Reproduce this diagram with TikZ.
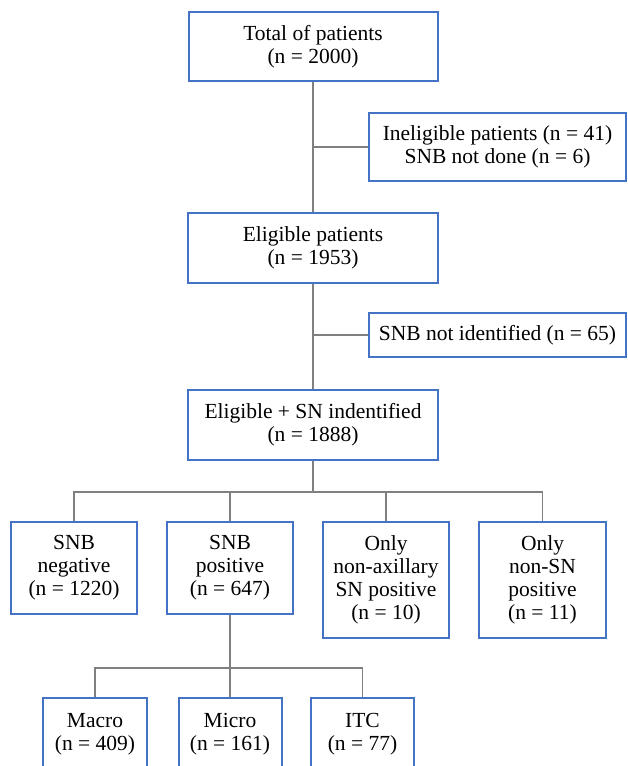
\documentclass[tikz,border=0pt]{standalone}
\usepackage{fontspec}
\setmainfont{Liberation Serif}
\usepackage{tikz}
\definecolor{boxblue}{RGB}{68,114,196}
\definecolor{linegray}{RGB}{128,128,128}
\tikzset{
  flowbox/.style={draw=boxblue, line width=2pt, fill=white, align=center, inner sep=0pt,
    font=\fontsize{21.5}{23}\selectfont},
  link/.style={draw=linegray, line width=1.4pt}
}

\begin{document}
\begin{tikzpicture}[x=1pt,y=-1pt]
\clip (0,0) rectangle (628,766);
\fill[white] (0,0) rectangle (628,766);
\node[flowbox, minimum width=249pt, minimum height=69pt] (total) at (313,46.5) {Total of patients\\(n = 2000)};
\node[flowbox, minimum width=257pt, minimum height=68pt] (inelig) at (497.5,147) {Ineligible patients (n = 41)\\SNB not done (n = 6)};
\node[flowbox, minimum width=250pt, minimum height=70pt] (elig) at (313,248) {Eligible patients\\(n = 1953)};
\node[flowbox, minimum width=257pt, minimum height=44pt] (notid) at (497.5,335) {SNB not identified (n = 65)};
\node[flowbox, minimum width=250pt, minimum height=70pt] (eligsn) at (313,425) {Eligible + SN indentified\\(n = 1888)};
\node[flowbox, minimum width=126pt, minimum height=92pt] (snbneg) at (74,568) {SNB\\negative\\(n = 1220)};
\node[flowbox, minimum width=126pt, minimum height=92pt] (snbpos) at (230,568) {SNB\\positive\\(n = 647)};
\node[flowbox, minimum width=126pt, minimum height=116pt] (onlyax) at (386,580) {Only\\non-axillary\\SN positive\\(n = 10)};
\node[flowbox, minimum width=127pt, minimum height=116pt] (onlysn) at (542.5,580) {Only\\non-SN\\positive\\(n = 11)};
\node[flowbox, minimum width=104pt, minimum height=72pt] (macro) at (95,734) {Macro\\(n = 409)};
\node[flowbox, minimum width=103pt, minimum height=72pt] (micro) at (230,734) {Micro\\(n = 161)};
\node[flowbox, minimum width=103pt, minimum height=72pt] (itc) at (362.5,734) {ITC\\(n = 77)};
\coordinate (side1) at (313,147);
\coordinate (side2) at (313,335);
\coordinate (bus1) at (313,492);
\coordinate (bus2) at (230,668);
\draw[link] (total.south) -- (elig.north);
\draw[link] (elig.south) -- (eligsn.north);
\draw[link] (side1) -- (inelig.west);
\draw[link] (side2) -- (notid.west);
\draw[link] (eligsn.south) -- (bus1);
\draw[link] (snbneg.north) |- (bus1);
\draw[link] (snbpos.north) |- (bus1);
\draw[link] (onlyax.north) |- (bus1);
\draw[link] (onlysn.north) |- (bus1);
\draw[link] (snbpos.south) -- (bus2);
\draw[link] (macro.north) |- (bus2);
\draw[link] (micro.north) |- (bus2);
\draw[link] (itc.north) |- (bus2);
\end{tikzpicture}
\end{document}
